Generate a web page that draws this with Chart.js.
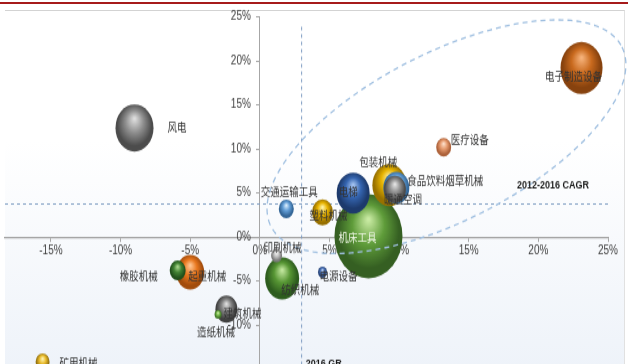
<!DOCTYPE html>
<html>
<head>
<meta charset="utf-8">
<script src="https://cdn.jsdelivr.net/npm/chart.js@4.4.1/dist/chart.umd.min.js"></script>
<style>
  html, body { margin: 0; padding: 0; background: #fff; overflow: hidden; }
  body { width: 628px; height: 364px; position: relative; }
  .rule { position: absolute; left: 0; top: 2px; width: 628px; height: 2px; background: #a61b1b; }
  .panel {
    position: absolute; left: 5px; top: 10px; width: 619px; height: 370px;
    border-top: 1px solid #d3d3d3; border-right: 1px solid #e1e1e1;
    background: linear-gradient(to bottom, #ffffff 0%, #ffffff 35%, #edf2f9 100%);
  }
  #bubbleChart { position: absolute; left: 0; top: 0; }
</style>
</head>
<body>
<div class="rule"></div>
<div class="panel"></div>
<canvas id="bubbleChart" width="628" height="300" style="width:628px;height:372px"></canvas>
<script>
// x: 2016 增速 (%), y: 2012-2016 CAGR (%), r: 气泡半径（行业规模）
const sectors = ['机床工具', '电子制造设备', '风电', '包装机械', '纺织机械', '电梯', '起重机械', '食品饮料烟草机械', '暖通空调',
                 '建筑机械', '塑料机械', '橡胶机械', '医疗设备', '交通运输工具', '矿用机械', '印刷机械', '电源设备', '造纸机械'];
const growth2016 = [7.8, 23.1, -9.0, 9.3, 1.6, 6.7, -5.0, 9.8, 9.7, -2.4, 4.5, -5.9, 13.2, 1.9, -15.6, 1.2, 4.5, -3.0];
const cagr2012to2016 = [0.1, 19.2, 12.4, 5.9, -4.7, 5.0, -4.0, 5.6, 5.4, -8.2, 2.8, -3.8, 10.2, 3.2, -14.2, -2.1, -4.0, -8.8];
const bubbleRadius = [34, 21, 19, 17, 17, 16.5, 14, 13, 11, 11, 10.5, 8, 7.5, 7.5, 7, 5.5, 4.5, 3.5];
const xTicks = [-15, -10, -5, 0, 5, 10, 15, 20, 25];
const yTicks = [-10, -5, 0, 5, 10, 15, 20, 25];
const avgGrowth2016 = 3.0;
const avgCagr = 3.75;

// 球体配色：高光、主色、暗部
const sphereColors = {
    '机床工具': ['#c8eaa2', '#5f9c3a', '#355f22'],
    '电子制造设备': ['#f6b27a', '#c96a1e', '#87420e'],
    '风电': ['#dedede', '#8e8e8e', '#4c4c4c'],
    '包装机械': ['#fff1a0', '#e6b300', '#987100'],
    '纺织机械': ['#c2e79e', '#579634', '#2d5c1e'],
    '电梯': ['#a3c2f0', '#3565b0', '#1d3a6c'],
    '起重机械': ['#ffc692', '#e8771e', '#a24c0c'],
    '食品饮料烟草机械': ['#d8ebfc', '#68a6dd', '#36699a'],
    '暖通空调': ['#e4e4e4', '#919191', '#4e4e4e'],
    '建筑机械': ['#dedede', '#808080', '#404040'],
    '塑料机械': ['#fff3a6', '#e8b300', '#977000'],
    '橡胶机械': ['#acd98e', '#428233', '#22501c'],
    '医疗设备': ['#fde0cb', '#e59a6e', '#ad623a'],
    '交通运输工具': ['#d9edfd', '#619dd6', '#336596'],
    '矿用机械': ['#fff6b8', '#e9bb2c', '#967412'],
    '印刷机械': ['#f6f6f6', '#bebebe', '#7a7a7a'],
    '电源设备': ['#b8cef0', '#4c72b6', '#274478'],
    '造纸机械': ['#d5f2b0', '#76b84a', '#3f7426']
};

// 标签相对气泡中心的偏移 [dx, dy, 对齐]（屏幕像素）
const labelPlacement = {
    '机床工具': [-11, 1, 'center'],
    '电子制造设备': [-8, 8, 'center'],
    '风电': [33, -1, 'left'],
    '包装机械': [-11, -23, 'center'],
    '纺织机械': [18, 11, 'center'],
    '电梯': [-5, -2, 'center'],
    '起重机械': [-2, 3, 'left'],
    '食品饮料烟草机械': [11, -7, 'left'],
    '暖通空调': [8, 10, 'center'],
    '建筑机械': [16, 4, 'center'],
    '塑料机械': [6, 3, 'center'],
    '橡胶机械': [-20, 5, 'right'],
    '医疗设备': [7, -8, 'left'],
    '交通运输工具': [3, -17, 'center'],
    '矿用机械': [17, 0, 'left'],
    '印刷机械': [6, -8, 'center'],
    '电源设备': [-3, 3, 'left'],
    '造纸机械': [-2, 17, 'center']
};

// 画布在竖直方向被 CSS 拉伸的比例
const STRETCH_Y = 372 / 300;

const points = sectors.map((s, i) => ({ x: growth2016[i], y: cagr2012to2016[i], r: bubbleRadius[i] }));

function sphereFill(ctx) {
    if (ctx.type !== 'data') return '#888';
    const chart = ctx.chart;
    const p = ctx.raw;
    const [light, base, dark] = sphereColors[sectors[ctx.dataIndex]];
    const cx = chart.scales.x.getPixelForValue(p.x);
    const cy = chart.scales.y.getPixelForValue(p.y);
    if (!isFinite(cx) || !isFinite(cy)) return base;
    const r = p.r;
    // 高光在球体上方居中，边缘渐暗
    const g = chart.ctx.createRadialGradient(cx, cy - r * 0.4, r * 0.03, cx, cy - r * 0.1, r * 1.02);
    g.addColorStop(0, light);
    g.addColorStop(0.45, base);
    g.addColorStop(0.88, dark);
    g.addColorStop(1, dark);
    return g;
}

// 虚线椭圆（数据坐标）：中心、两条半轴向量
const ellipseCenter = [13.4, 11.4];
const ellipseMajor = [12.6, 10.2];
const ellipseMinor = [2.7, -8.5];

const overlayPlugin = {
    id: 'overlay',
    beforeDraw(chart) {
        // 中心 y 轴的刻度文字与轴线留出间距
        const items = chart.scales.y.getLabelItems();
        if (!items._shifted) {
            items.forEach(it => { it.options.translation[0] -= 9; });
            items._shifted = true;
        }
    },
    afterDatasetsDraw(chart) {
        const { ctx, scales: { x, y } } = chart;
        ctx.save();

        // 椭圆
        ctx.beginPath();
        for (let k = 0; k <= 180; k++) {
            const t = k / 180 * Math.PI * 2;
            const vx = ellipseCenter[0] + ellipseMajor[0] * Math.cos(t) + ellipseMinor[0] * Math.sin(t);
            const vy = ellipseCenter[1] + ellipseMajor[1] * Math.cos(t) + ellipseMinor[1] * Math.sin(t);
            const px = x.getPixelForValue(vx), py = y.getPixelForValue(vy);
            if (k === 0) ctx.moveTo(px, py); else ctx.lineTo(px, py);
        }
        ctx.setLineDash([5, 4]);
        ctx.lineWidth = 1.3;
        ctx.strokeStyle = '#9fbfe0';
        ctx.stroke();
        ctx.setLineDash([]);

        // 行业名称
        ctx.font = '9.5px "Noto Sans CJK SC"';
        ctx.textBaseline = 'middle';
        sectors.forEach((name, i) => {
            const [dx, dy, align] = labelPlacement[name];
            const px = x.getPixelForValue(growth2016[i]) + dx;
            const py = y.getPixelForValue(cagr2012to2016[i]) + dy / STRETCH_Y;
            ctx.textAlign = align;
            ctx.fillStyle = name === '机床工具' ? '#eef6e4' : '#333333';
            ctx.fillText(name, px, py);
        });

        // 坐标轴标题
        ctx.font = 'bold 9px "Liberation Sans"';
        ctx.fillStyle = '#1a1a1a';
        ctx.textAlign = 'center';
        ctx.fillText('2012-2016 CAGR', x.getPixelForValue(21.05), y.getPixelForValue(5.8));
        ctx.textAlign = 'left';
        ctx.fillText('2016 GR', x.getPixelForValue(3.3), y.getPixelForValue(-14.4));
        ctx.restore();
    }
};

const axisColor = '#a6a6a6';
const tickFont = { family: 'Liberation Sans', size: 10 };

new Chart(document.getElementById('bubbleChart'), {
    data: {
        datasets: [
            {
                type: 'bubble',
                data: points,
                backgroundColor: sphereFill,
                borderWidth: 0,
                order: 1
            },
            {
                type: 'line',
                data: [{ x: -18.3, y: avgCagr }, { x: 25, y: avgCagr }],
                borderColor: '#7f9dc2',
                borderWidth: 1,
                borderDash: [3, 3],
                pointRadius: 0,
                order: 2
            },
            {
                type: 'line',
                data: [{ x: avgGrowth2016, y: 23.9 }, { x: avgGrowth2016, y: -15 }],
                borderColor: '#7f9dc2',
                borderWidth: 1,
                borderDash: [3, 3],
                pointRadius: 0,
                order: 2
            }
        ]
    },
    options: {
        responsive: false,
        animation: false,
        events: [],
        layout: { autoPadding: false, padding: { left: 5, right: 20, top: 13.7, bottom: 2.4 } },
        plugins: { legend: { display: false }, tooltip: { enabled: false } },
        scales: {
            x: {
                type: 'linear',
                min: -18.3,
                max: 25,
                position: { y: 0 },
                afterBuildTicks: s => { s.ticks = xTicks.map(v => ({ value: v })); },
                afterFit: s => { s.height = 0; s.paddingLeft = 0; s.paddingRight = 0; },
                grid: { drawOnChartArea: false, tickLength: 3, color: axisColor },
                border: { color: axisColor, width: 1.2 },
                ticks: { callback: v => v + '%', color: '#404040', font: tickFont, padding: 2, autoSkip: false, maxRotation: 0 }
            },
            y: {
                type: 'linear',
                min: -15,
                max: 25,
                position: { x: 0 },
                afterBuildTicks: s => { s.ticks = yTicks.map(v => ({ value: v })); },
                afterFit: s => { s.width = 0; s.paddingTop = 0; s.paddingBottom = 0; },
                grid: { drawOnChartArea: false, tickLength: 3, color: axisColor },
                border: { color: axisColor, width: 1 },
                ticks: { callback: v => v + '%', color: '#404040', font: tickFont, padding: 5, autoSkip: false }
            }
        }
    },
    plugins: [overlayPlugin]
});
</script>
</body>
</html>
